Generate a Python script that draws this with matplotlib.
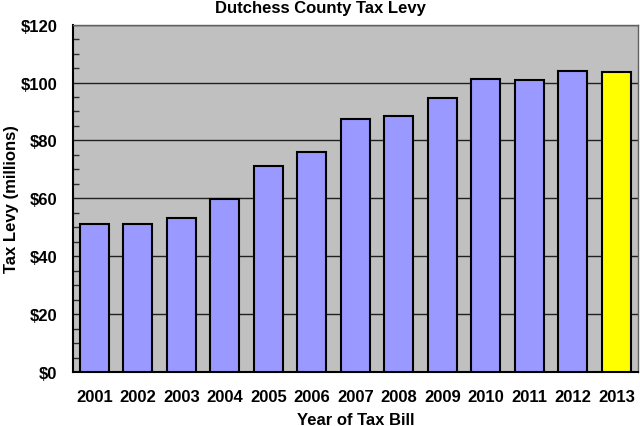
import matplotlib
matplotlib.use('Agg')
import matplotlib.pyplot as plt
from matplotlib.ticker import MultipleLocator, FuncFormatter

## Data
years = ['2001', '2002', '2003', '2004', '2005', '2006', '2007',
         '2008', '2009', '2010', '2011', '2012', '2013']
levy = [51.0, 51.0, 53.3, 59.7, 71.0, 76.0, 87.3,
        88.3, 94.7, 101.1, 100.8, 103.9, 103.8]  # millions of dollars
highlight = '2013'

plt.rcParams['font.family'] = ['Liberation Sans', 'DejaVu Sans']
plt.rcParams['font.weight'] = 'bold'
fs = 12

fig = plt.figure(figsize=(6.4, 4.27), dpi=100)
ax = fig.add_axes([0.1135, 0.1265, 0.8835, 0.8135])
ax.set_facecolor('#C0C0C0')

colors = ['#FFFF00' if y == highlight else '#9999FF' for y in years]
ax.bar(range(len(years)), levy, width=0.67, color=colors,
       edgecolor='black', linewidth=1.5, zorder=3)

## Axes setup
ax.set_ylim(0, 120)
ax.set_xlim(-0.5, len(years) - 0.5)
ax.yaxis.set_major_locator(MultipleLocator(20))
ax.yaxis.set_minor_locator(MultipleLocator(5))
ax.yaxis.set_major_formatter(FuncFormatter(lambda v, p: '$%d' % v))
ax.grid(axis='y', which='major', color='#202020', linewidth=1.0, zorder=1)
ax.set_xticks(range(len(years)))
ax.set_xticklabels(years)
ax.tick_params(axis='x', length=0, pad=12, labelsize=fs)
ax.tick_params(axis='y', which='major', length=0, pad=11, labelsize=fs)
ax.tick_params(axis='y', which='minor', direction='in', length=4, width=1, color='#303030')

for s in ['left', 'bottom']:
    ax.spines[s].set_color('black')
    ax.spines[s].set_linewidth(1.5)
for s in ['top', 'right']:
    ax.spines[s].set_color('#606060')
    ax.spines[s].set_linewidth(1.0)

# title is centred on the whole figure, not on the plot area
fig.text(0.5, 0.979, 'Dutchess County Tax Levy', fontsize=fs, fontweight='bold',
         ha='center', va='center')
ax.set_xlabel('Year of Tax Bill', fontsize=fs, fontweight='bold', labelpad=6)
ax.set_ylabel('Tax Levy (millions)', fontsize=fs, fontweight='bold', labelpad=1)

fig.savefig('out.png', dpi=100)
